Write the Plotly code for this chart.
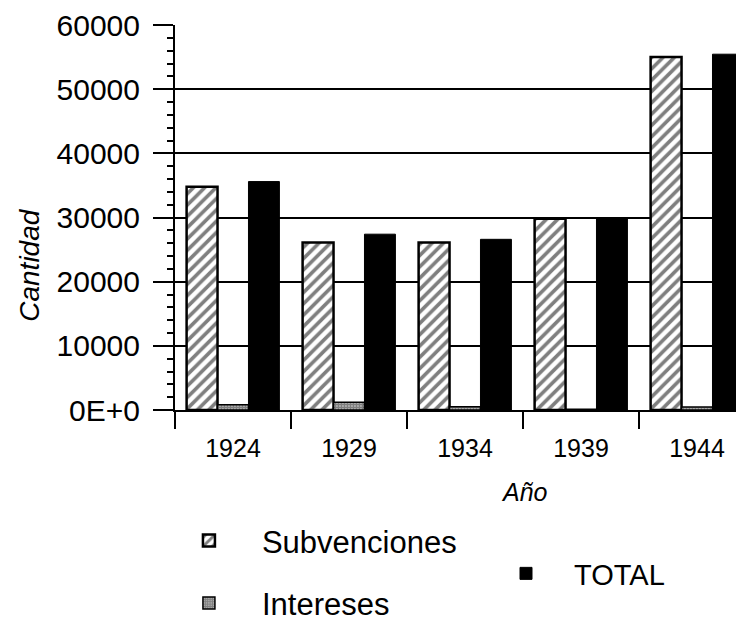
import plotly.graph_objects as go

years = ["1924", "1929", "1934", "1939", "1944"]
subvenciones = [34800, 26100, 26100, 29800, 55000]
intereses = [800, 1200, 500, 100, 450]
total = [35600, 27400, 26600, 29900, 55450]

y_tickvals = [0, 10000, 20000, 30000, 40000, 50000, 60000]
y_ticktext = ["0E+0", "10000", "20000", "30000", "40000", "50000", "60000"]

FONT = "Liberation Sans, Arial, Helvetica, sans-serif"

fig = go.Figure()
fig.add_trace(go.Bar(
    x=years, y=subvenciones, name="Subvenciones",
    marker=dict(color="white", line=dict(color="black", width=2.5),
                pattern=dict(shape="/", fgcolor="black", bgcolor="white", size=8, solidity=0.45)),
    legend="legend", legendgroup="a",
))
fig.add_trace(go.Bar(
    x=years, y=intereses, name="Intereses",
    marker=dict(color="white", line=dict(color="black", width=1.5),
                pattern=dict(shape=".", fgcolor="black", bgcolor="white", size=3, solidity=0.8)),
    legend="legend", legendgroup="b",
))
fig.add_trace(go.Bar(
    x=years, y=total, name="TOTAL",
    marker=dict(color="black", line=dict(color="black", width=1)),
    legend="legend2",
))

fig.update_layout(
    width=736, height=619,
    margin=dict(l=167, r=0, t=17, b=217, autoexpand=False),
    paper_bgcolor="white", plot_bgcolor="white",
    barmode="group", bargap=0.2, bargroupgap=0.0,
    font=dict(family=FONT, color="black", size=20),
    showlegend=True,
    legend=dict(xref="container", yref="container", x=0.201, y=0.1826,
                xanchor="left", yanchor="top",
                font=dict(size=31, family=FONT), tracegroupgap=19,
                itemwidth=96, bgcolor="rgba(0,0,0,0)"),
    legend2=dict(xref="container", yref="container", x=0.6386, y=0.1276,
                 xanchor="left", yanchor="top",
                 font=dict(size=29, family=FONT), itemwidth=86,
                 bgcolor="rgba(0,0,0,0)"),
    annotations=[
        dict(text="<i>Año</i>", xref="paper", yref="paper",
             x=0.615, y=-0.213, xanchor="center", yanchor="middle",
             showarrow=False, font=dict(size=25, family=FONT, color="black")),
        dict(text="<i>Cantidad</i>", xref="paper", yref="paper",
             x=-0.255, y=0.377, xanchor="center", yanchor="middle", textangle=-90,
             showarrow=False, font=dict(size=28, family=FONT, color="black")),
    ],
)

fig.update_xaxes(
    type="category", range=[-0.5, 4.405], automargin=False,
    showline=True, linecolor="black", linewidth=2,
    ticks="outside", tickson="boundaries", ticklen=17, tickwidth=2, tickcolor="black",
    tickfont=dict(size=25, family=FONT), ticklabelstandoff=15,
    showgrid=False,
)
fig.update_yaxes(
    range=[0, 60000], automargin=False,
    tickvals=y_tickvals, ticktext=y_ticktext,
    showline=True, linecolor="black", linewidth=2,
    ticks="outside", ticklen=20, tickwidth=2, tickcolor="black",
    minor=dict(dtick=2000, ticks="outside", ticklen=6, tickwidth=1.5, tickcolor="black", showgrid=False),
    tickfont=dict(size=30, family=FONT), ticklabelstandoff=7,
    showgrid=True, gridcolor="black", gridwidth=1.5,
    zeroline=False,
)

fig.write_html("out.html")
